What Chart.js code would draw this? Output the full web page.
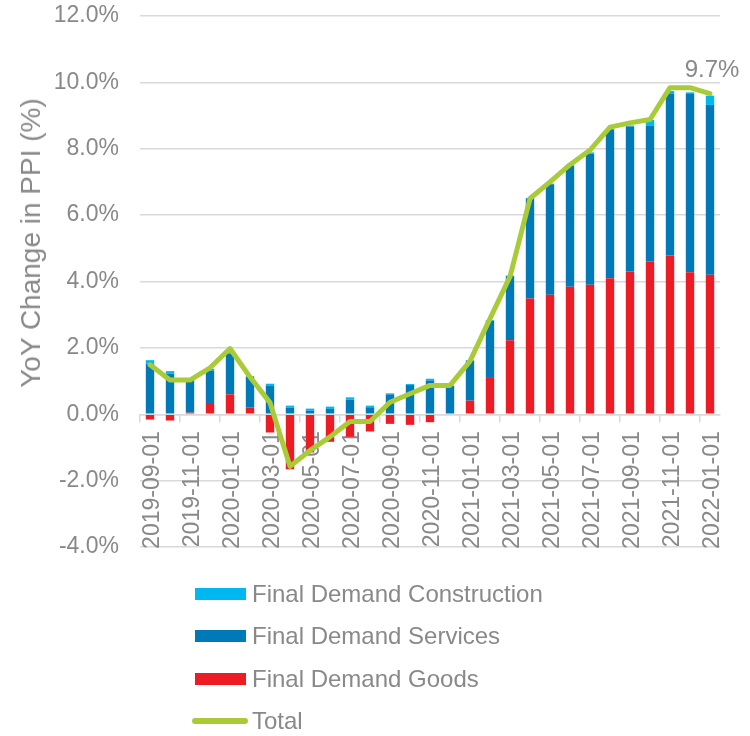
<!DOCTYPE html>
<html>
<head>
<meta charset="utf-8">
<script src="https://cdn.jsdelivr.net/npm/chart.js@4.4.1/dist/chart.umd.min.js"></script>
<style>
  body { margin: 0; background: #fff; font-family: "Liberation Sans", Arial, sans-serif; }
  #wrap { position: relative; width: 750px; height: 736px; }
  #ytitle {
    position: absolute; left: 31px; top: 243px;
    transform: translate(-50%, -50%) rotate(-90deg);
    white-space: nowrap; font-size: 28px; color: #898989;
  }
  #legend { position: absolute; left: 192px; top: 573px; }
  .item { height: 42.3px; display: flex; align-items: center; font-size: 24px; color: #898989; }
  .swatch { width: 51px; height: 12px; margin-left: 3px; margin-right: 6px; }
  .swatch.line { width: 56px; height: 6px; border-radius: 3px; margin-left: 0; margin-right: 4px; }
</style>
</head>
<body>
<div id="wrap">
  <canvas id="chart"></canvas>
  <div id="ytitle">YoY Change in PPI (%)</div>
  <div id="legend"></div>
</div>
<script>
var months = [
  '2019-09-01', '2019-10-01', '2019-11-01', '2019-12-01', '2020-01-01', '2020-02-01',
  '2020-03-01', '2020-04-01', '2020-05-01', '2020-06-01', '2020-07-01', '2020-08-01',
  '2020-09-01', '2020-10-01', '2020-11-01', '2020-12-01', '2021-01-01', '2021-02-01',
  '2021-03-01', '2021-04-01', '2021-05-01', '2021-06-01', '2021-07-01', '2021-08-01',
  '2021-09-01', '2021-10-01', '2021-11-01', '2021-12-01', '2022-01-01'
];

var goods = [
  -0.16, -0.19, 0.05, 0.34, 0.60, 0.20, -0.55, -1.66, -1.15, -0.83,
  -0.68, -0.52, -0.29, -0.32, -0.24, 0.00, 0.41, 1.12, 2.23, 3.49,
  3.60, 3.84, 3.90, 4.10, 4.30, 4.60, 4.78, 4.28, 4.20
];

var services = [
  1.52, 1.22, 0.97, 0.98, 1.22, 0.93, 0.85, 0.20, 0.11, 0.16,
  0.44, 0.21, 0.60, 0.88, 1.02, 0.85, 1.20, 1.70, 1.93, 3.01,
  3.33, 3.65, 3.96, 4.47, 4.37, 4.10, 4.87, 5.37, 5.12
];

var construction = [
  0.11, 0.08, 0.03, 0.05, 0.05, 0.02, 0.07, 0.06, 0.06, 0.07,
  0.07, 0.05, 0.03, 0.03, 0.05, 0.02, 0.02, 0.02, 0.02, 0.02,
  0.02, 0.03, 0.03, 0.03, 0.03, 0.17, 0.09, 0.05, 0.28
];

var total = [
  1.49, 1.03, 1.03, 1.40, 1.98, 1.12, 0.35, -1.57, -1.09, -0.68,
  -0.22, -0.22, 0.36, 0.62, 0.87, 0.87, 1.60, 2.88, 4.15, 6.50,
  7.00, 7.52, 7.96, 8.65, 8.78, 8.88, 9.84, 9.84, 9.66
];

var yTicks = [-4, -2, 0, 2, 4, 6, 8, 10, 12];

var gray = '#898989';
var gridGray = '#d9d9d9';
var font = '"Liberation Sans", Arial, sans-serif';

// label over the last point of the Total line
var lastLabel = {
  id: 'lastLabel',
  afterDatasetsDraw: function (chart) {
    var meta = chart.getDatasetMeta(3);
    var pt = meta.data[meta.data.length - 1];
    var ctx = chart.ctx;
    ctx.save();
    ctx.font = '24px ' + font;
    ctx.fillStyle = gray;
    ctx.textAlign = 'center';
    ctx.textBaseline = 'middle';
    ctx.fillText(total[total.length - 1].toFixed(1) + '%', pt.x + 2, pt.y - 23);
    ctx.restore();
  }
};

var chart = new Chart(document.getElementById('chart'), {
  type: 'bar',
  data: {
    labels: months,
    datasets: [
      { label: 'Final Demand Goods', data: goods, backgroundColor: '#ed1c24', order: 1 },
      { label: 'Final Demand Services', data: services, backgroundColor: '#0079b8', order: 1 },
      { label: 'Final Demand Construction', data: construction, backgroundColor: '#00b8f0', order: 1 },
      {
        type: 'line', label: 'Total', data: total, stack: 'total',
        borderColor: '#a9cb38', backgroundColor: '#a9cb38', borderWidth: 5,
        pointRadius: 0, tension: 0, borderJoinStyle: 'round', borderCapStyle: 'round', order: 0
      }
    ]
  },
  options: {
    responsive: true,
    maintainAspectRatio: false,
    animation: false,
    layout: { padding: { left: 0, right: 30, top: 16, bottom: 189 } },
    datasets: { bar: { barPercentage: 0.42, categoryPercentage: 1 } },
    plugins: { legend: { display: false }, tooltip: { enabled: false } },
    scales: {
      x: {
        stacked: true,
        position: { y: 0 },
        afterFit: function (s) { s.paddingTop = 0; s.paddingBottom = 0; },
        grid: {
          offset: true,
          drawOnChartArea: false,
          drawTicks: true,
          tickLength: 7,
          lineWidth: 1.5,
          color: function (c) { return c.index % 2 === 0 ? gridGray : 'rgba(0,0,0,0)'; }
        },
        border: { display: true, color: gridGray, width: 1.5 },
        ticks: {
          autoSkip: false,
          maxRotation: 90,
          minRotation: 90,
          padding: 10,
          labelOffset: 3,
          color: gray,
          font: { family: font, size: 23 },
          callback: function (v, i) { return i % 2 === 0 ? months[i] : ''; }
        }
      },
      y: {
        stacked: true,
        min: yTicks[0],
        max: yTicks[yTicks.length - 1],
        afterFit: function (s) { s.width = 140; s.paddingTop = 0; s.paddingBottom = 0; },
        afterBuildTicks: function (s) { s.ticks = yTicks.map(function (v) { return { value: v }; }); },
        grid: { color: gridGray, lineWidth: 1.5, drawTicks: false },
        border: { display: false },
        ticks: {
          padding: 21,
          color: gray,
          font: { family: font, size: 23 },
          callback: function (v) { return v.toFixed(1) + '%'; }
        }
      }
    }
  },
  plugins: [lastLabel]
});

// legend in the order of the original
var legendOrder = [2, 1, 0, 3];
var legendBox = document.getElementById('legend');
legendOrder.forEach(function (idx) {
  var ds = chart.data.datasets[idx];
  var row = document.createElement('div');
  row.className = 'item';
  var sw = document.createElement('span');
  sw.className = ds.type === 'line' ? 'swatch line' : 'swatch';
  sw.style.background = ds.type === 'line' ? ds.borderColor : ds.backgroundColor;
  row.appendChild(sw);
  row.appendChild(document.createTextNode(ds.label));
  legendBox.appendChild(row);
});
</script>
</body>
</html>
